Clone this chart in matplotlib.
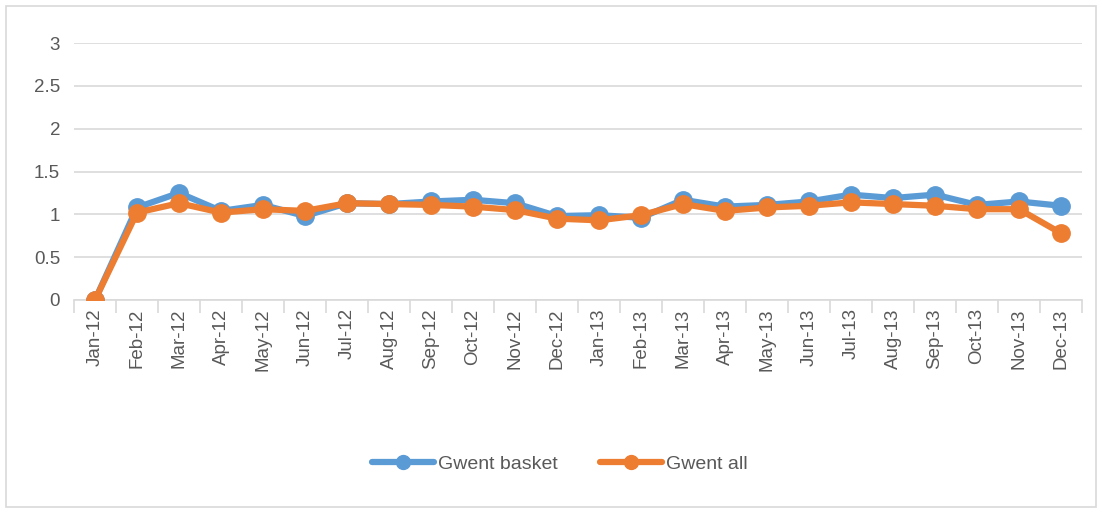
import matplotlib
matplotlib.use("Agg")
import matplotlib.pyplot as plt
from matplotlib.patches import Rectangle
import numpy as np

months = ["Jan-12", "Feb-12", "Mar-12", "Apr-12", "May-12", "Jun-12", "Jul-12", "Aug-12",
          "Sep-12", "Oct-12", "Nov-12", "Dec-12", "Jan-13", "Feb-13", "Mar-13", "Apr-13",
          "May-13", "Jun-13", "Jul-13", "Aug-13", "Sep-13", "Oct-13", "Nov-13", "Dec-13"]
gwent_basket = [0.0, 1.08, 1.25, 1.04, 1.11, 0.98, 1.13, 1.12, 1.15, 1.17, 1.13, 0.98,
                0.99, 0.96, 1.17, 1.09, 1.11, 1.15, 1.23, 1.19, 1.23, 1.11, 1.15, 1.10]
gwent_all = [0.0, 1.02, 1.13, 1.02, 1.06, 1.04, 1.13, 1.12, 1.11, 1.09, 1.05, 0.95,
             0.93, 0.99, 1.12, 1.04, 1.08, 1.10, 1.14, 1.12, 1.10, 1.06, 1.06, 0.78]
yticks = [0, 0.5, 1, 1.5, 2, 2.5, 3]
ytick_labels = ["0", "0.5", "1", "1.5", "2", "2.5", "3"]

plt.rcParams['font.family'] = ['Liberation Sans', 'DejaVu Sans']
txt = '#595959'
blue = '#5B9BD5'
orange = '#ED7D31'

W, H = 1102, 513
fig = plt.figure(figsize=(W / 100, H / 100), dpi=100)
fig.patches.append(Rectangle((6 / W, 6 / H), 1 - 12 / W, 1 - 12 / H, transform=fig.transFigure,
                             fill=False, edgecolor='#D9D9D9', linewidth=1.2))

left, right, top, bottom = 74, 1082, 43, 300
ax = fig.add_axes([left / W, 1 - bottom / H, (right - left) / W, (bottom - top) / H])

x = np.arange(len(months))
ax.plot(x, gwent_basket, color=blue, lw=4.5, marker='o', ms=12.5, label='Gwent basket',
        solid_capstyle='round', zorder=3)
ax.plot(x, gwent_all, color=orange, lw=4.5, marker='o', ms=12.5, label='Gwent all',
        solid_capstyle='round', zorder=4)

ax.set_ylim(0, 3)
ax.set_xlim(-0.5, len(months) - 0.5)
ax.set_yticks(yticks)
ax.set_yticklabels(ytick_labels)
ax.yaxis.grid(True, color='#D9D9D9', lw=1.2)
ax.set_axisbelow(True)
ax.tick_params(axis='y', length=0, labelsize=13.5, labelcolor=txt, pad=10)

ax.set_xticks(x)
ax.set_xticklabels(months, rotation=90)
ax.set_xticks(np.arange(-0.5, len(months), 1), minor=True)
ax.tick_params(axis='x', which='major', length=0, labelsize=13.5, labelcolor=txt, pad=6)
ax.tick_params(axis='x', which='minor', length=9, color='#D9D9D9', width=1.2)

for s in ['top', 'right', 'left']:
    ax.spines[s].set_visible(False)
ax.spines['bottom'].set_color('#D9D9D9')
ax.spines['bottom'].set_linewidth(1.2)

leg = fig.legend(loc='center', bbox_to_anchor=(0.508, 1 - 464 / H), ncol=2, frameon=False,
                 fontsize=14, handlelength=3.2, columnspacing=2.2, handletextpad=0.2,
                 markerscale=0.8)
for t in leg.get_texts():
    t.set_color(txt)

fig.savefig('out.png', dpi=100)
